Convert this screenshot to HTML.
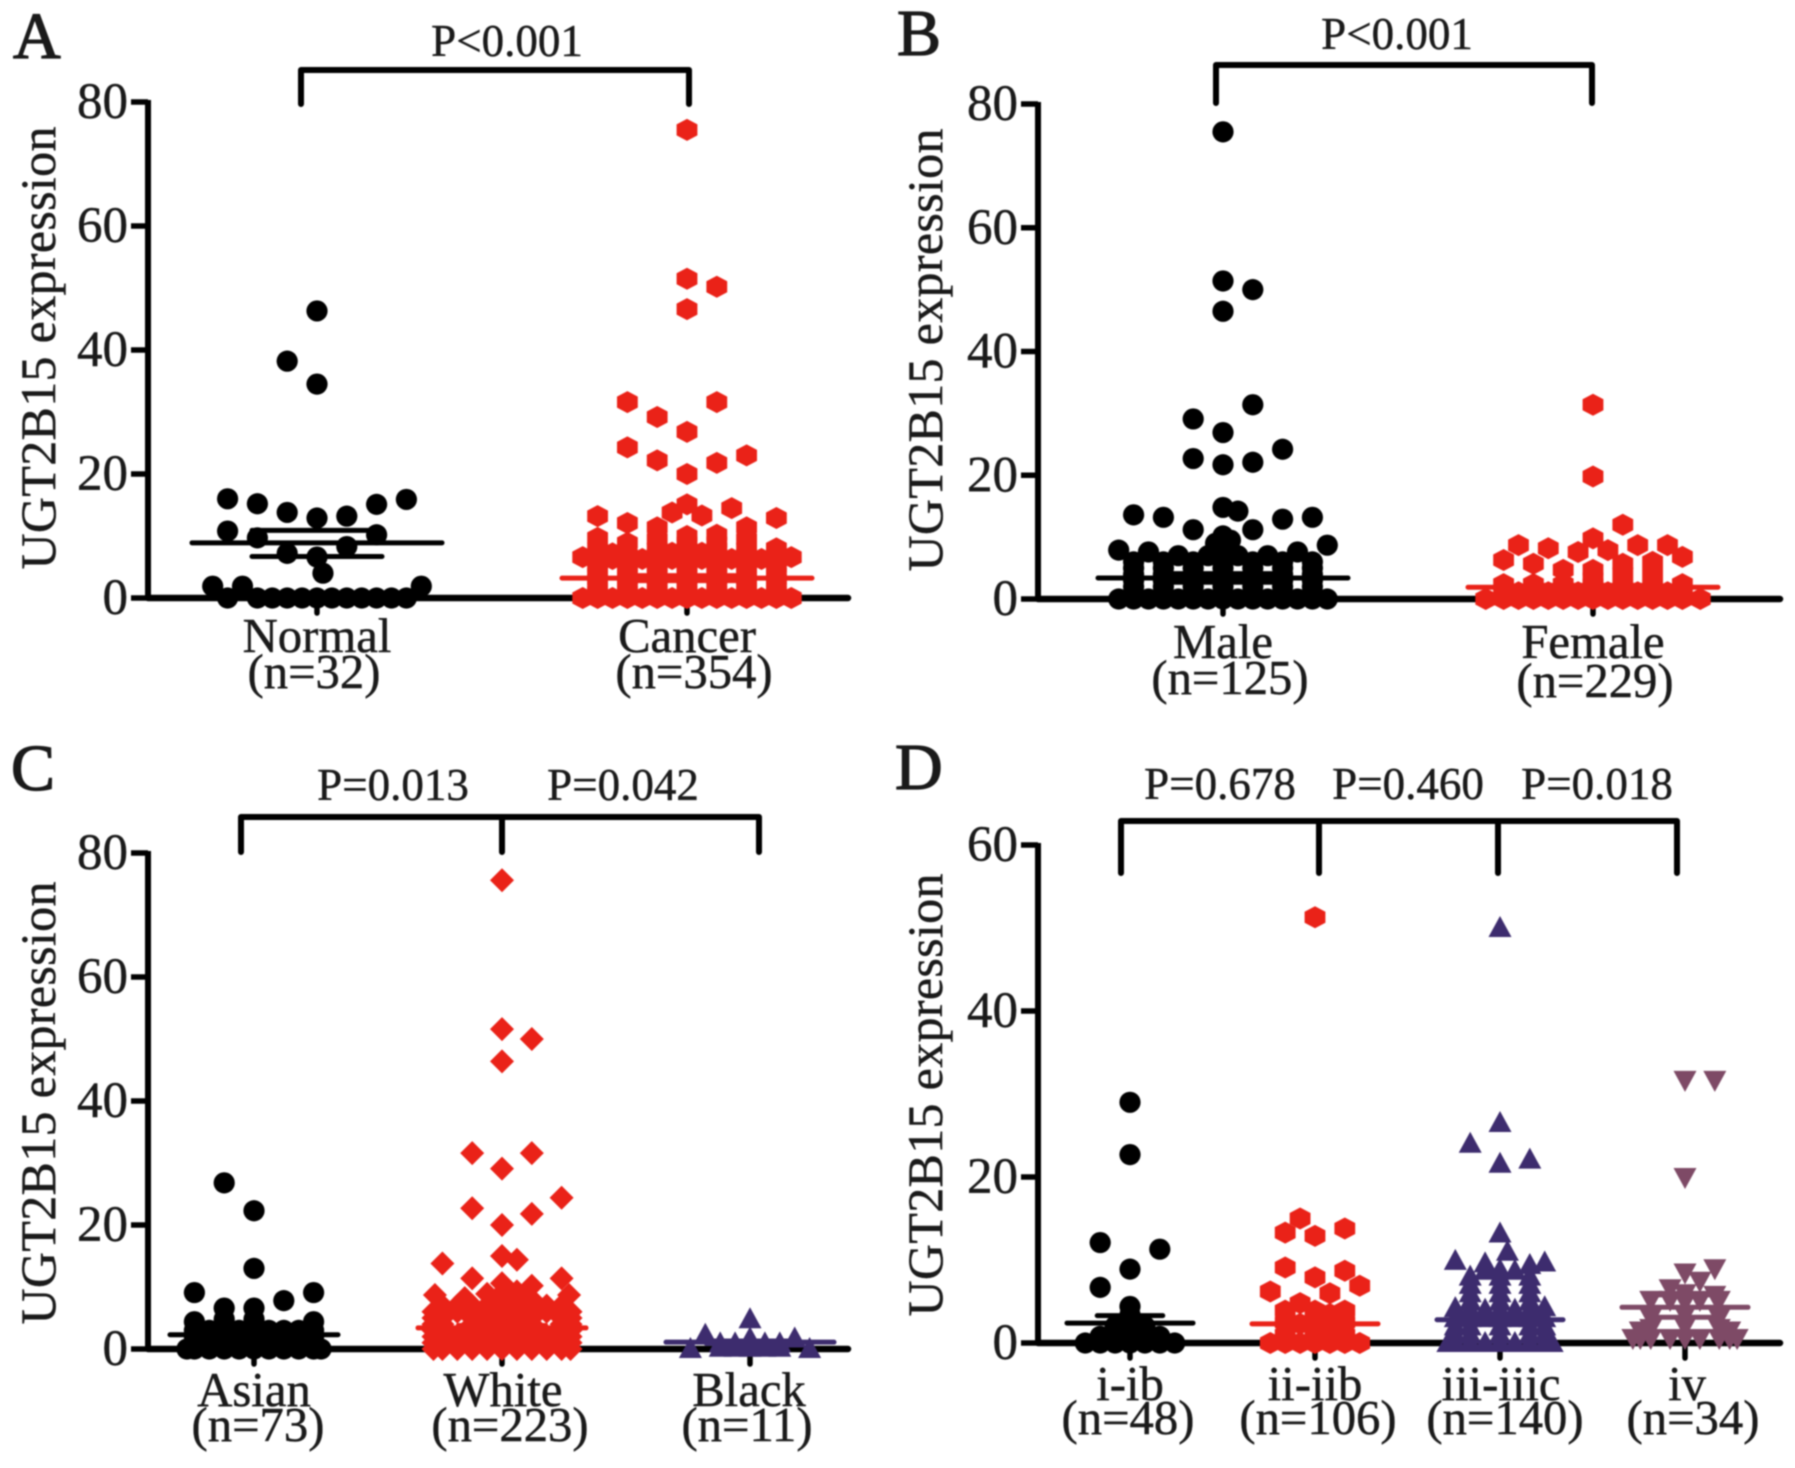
<!DOCTYPE html>
<html lang="en">
<head>
<meta charset="utf-8">
<title>UGT2B15 expression</title>
<style>
html,body{margin:0;padding:0;background:#fff;width:1795px;height:1468px;overflow:hidden}
svg{display:block;filter:blur(.7px)}
text{font-family:"Liberation Serif",serif;fill:#1a1a1a;stroke:#1a1a1a;stroke-width:.45px}
.pl{font-size:66px;stroke-width:1.3px}
.pv{font-size:45px;text-anchor:middle}
.cat{font-size:48.7px;text-anchor:middle}
.yt{font-size:50px;text-anchor:middle}
.tick{font-size:51px;text-anchor:end}
.ln{stroke:#000;stroke-width:6;fill:none;stroke-linecap:round;stroke-linejoin:round}
</style>
</head>
<body>
<svg id="figure" xmlns="http://www.w3.org/2000/svg" width="1795" height="1468" viewBox="0 0 1795 1468">
<rect width="1795" height="1468" fill="#fff"/>
<g>
<text class="pl" x="13" y="58">A</text>
<path class="ln" d="M301,104V70H689V104"/>
<text class="pv" x="507" y="56">P&lt;0.001</text>
<text class="yt" transform="translate(55,348) rotate(-90)" textLength="443">UGT2B15 expression</text>
<text class="cat" x="317" y="652">Normal</text>
<text class="cat" x="314" y="688">(n=32)</text>
<text class="cat" x="687" y="652">Cancer</text>
<text class="cat" x="694" y="688">(n=354)</text>
</g>
<g>
<text class="pl" x="897" y="55">B</text>
<path class="ln" d="M1216,103V65H1592V103"/>
<text class="pv" x="1397" y="49">P&lt;0.001</text>
<text class="yt" transform="translate(942,350) rotate(-90)" textLength="443">UGT2B15 expression</text>
<text class="cat" x="1223" y="658">Male</text>
<text class="cat" x="1230" y="694">(n=125)</text>
<text class="cat" x="1593" y="658">Female</text>
<text class="cat" x="1595" y="697">(n=229)</text>
</g>
<g>
<text class="pl" x="11" y="790">C</text>
<path class="ln" d="M241,852V817H759V852M502,817V852"/>
<text class="pv" x="393" y="800">P=0.013</text>
<text class="pv" x="623" y="800">P=0.042</text>
<text class="yt" transform="translate(55,1103) rotate(-90)" textLength="443">UGT2B15 expression</text>
<text class="cat" x="254" y="1406">Asian</text>
<text class="cat" x="258" y="1441">(n=73)</text>
<text class="cat" x="503" y="1406">White</text>
<text class="cat" x="510" y="1441">(n=223)</text>
<text class="cat" x="749" y="1406">Black</text>
<text class="cat" x="747" y="1441">(n=11)</text>
</g>
<g>
<text class="pl" x="895" y="789">D</text>
<path class="ln" d="M1121,873V821H1677V873M1319,821V873M1498,821V873"/>
<text class="pv" x="1220" y="799">P=0.678</text>
<text class="pv" x="1408" y="799">P=0.460</text>
<text class="pv" x="1597" y="799">P=0.018</text>
<text class="yt" transform="translate(942,1095) rotate(-90)" textLength="443">UGT2B15 expression</text>
<text class="cat" x="1130" y="1400">i-ib</text>
<text class="cat" x="1128" y="1434">(n=48)</text>
<text class="cat" x="1315" y="1400">ii-iib</text>
<text class="cat" x="1318" y="1434">(n=106)</text>
<text class="cat" x="1501" y="1400">iii-iiic</text>
<text class="cat" x="1505" y="1434">(n=140)</text>
<text class="cat" x="1687" y="1400">iv</text>
<text class="cat" x="1693" y="1434">(n=34)</text>
</g>
</svg>
<script>
// Tick labels
const ticks80 = [0, 20, 40, 60, 80];
const ticks60 = [0, 20, 40, 60];

// Swarm columns (integer slot = column index), values listed per column
const aNormalSlots = [-7,-6,-5,-4,-3,-2,-1,0,0.4,1,2,3,4,5,6,7];
const aNormalValues = [[1.9],[0,10.8,16],[1.9],[0,9.7,15.2],[0],[0,7.2,13.8,38.2],[0],[0,6.6,12.9,34.5,46.3],[4],[0],[0,8.3,13.2],[0],[0,10.2,15.1],[0],[0,15.9],[1.9]];
const aNormalStats = [8.9, 10.9, 6.7];

const aCancerSlots = [-7,-6,-5,-4,-3,-2,-1,0,1,2,3,4,5,6,7];
const aCancerValues = [
 [0,6.6],
 [0,1,2,3,4,5,6,7,8,9.7,13.2],
 [0,6.3,7.2],
 [0,1,2,3,4,5,6,7,8.9,12.1,24.3,31.6],
 [0,6.3],
 [0,1,2,3,4,5,6,7,8,9.5,11.4,22.2,29.2],
 [0,6.3,7.3,13.8],
 [0,1,2,3,4,5,6,7,8,9,10,15.1,20,26.8,46.6,51.5,75.5],
 [0,6.3,7.3,13.3],
 [0,1,2,3,4,5,6,7,8,9,10.2,21.8,31.6,50.2],
 [0,6.3,14.5],
 [0,1,2,3,4,5,6,7,8,9.5,11.4,23],
 [0,6.3],
 [0,1,2,3,4,5,6,7,8,12.9],
 [0,6.6]
];
const aCancerStats = [3.2, 3.6, 2.8];

const bMaleSlots = [-7,-6,-5,-4,-3,-2,-1,-0.5,0,0.5,1,2,3,4,5,6,7];
const bMaleValues = [
 [0,7.9],
 [0,1,2,3,4,5,6,13.6],
 [0,7.6],
 [0,1,2,3,4,5,6,13.2],
 [0,7],
 [0,1,2,3,4,5,6,11.2,22.7,29.1],
 [0,7],
 [9],
 [0,1,2,3,4,5,6,7,10.2,14.8,21.7,26.9,46.5,51.4,75.5],
 [9.5],
 [0,7,14.2],
 [0,1,2,3,4,5,6,11.2,22.1,31.4,50],
 [0,7],
 [0,1,2,3,4,5,6,12.9,24.2],
 [0,7.6],
 [0,1,2,3,4,5,6,13.2],
 [0,8.7]
];
const bMaleStats = [3.4, 4.1, 2.7];

const bFemaleSlots = [-7.2,-6,-5,-4,-3,-2,-1,0,1,2,3,4,5,6,7.2];
const bFemaleValues = [
 [0],
 [0,1.1,2.4,6.3],
 [0,1.1,8.7],
 [0,1.1,2.4,5.7],
 [0,1.1,8.2],
 [0,1.1,2.4,4.7],
 [0,1.1,7.6],
 [0,1.1,2.4,3.4,4.7,9.8,19.8,31.4],
 [0,1.1,7.9],
 [0,1.1,2.4,4.2,5.7,12],
 [0,1.1,8.7],
 [0,1.1,2.4,4.2,6],
 [0,1.1,8.7],
 [0,1.1,2.4,6.8],
 [0]
];
const bFemaleStats = [1.9, 2.2, 1.6];

const cAsianSlots = [-4.5,-4,-3,-2,-1,0,1,2,3,4,4.5];
const cAsianValues = [
 [0],
 [0,1,2,3,4.4,9.1],
 [0,1,2,3],
 [0,1,2,3,4.8,6.6,26.8],
 [0,1,2,3],
 [0,1,2,3,4.8,6.6,13,22.3],
 [0,1,2,3],
 [0,1,2,3,7.8],
 [0,1,2,3],
 [0,1,2,3,4.4,9.1],
 [0]
];
const cAsianStats = [2.3, 2.7, 1.9];

const cWhiteSlots = [-4.6,-4.5,-4,-3,-2.5,-2,-1,0,1,2,3,4,4.5,4.6];
const cWhiteValues = [
 [0,1,2,3,4,5,6],
 [8.7],
 [0,1,2,3,4,5,6,7,13.8],
 [0,1,2,6,7],
 [8.2],
 [0,1,2,3,4,5,6,7,11.4,22.7,31.6],
 [0,1,2,3,4,5,6,7,8.9],
 [0,1,2,3,4,5,6,7,8,9,10.6,15,20,29.1,46.4,51.6,75.6],
 [0,1,2,3,4,5,6,7,9.3,14.4],
 [0,1,2,3,4,5,6,7,8,10.2,21.8,31.6,50],
 [0,1,2,6,7],
 [0,1,2,3,4,5,6,7,11.4,24.4],
 [8.7],
 [0,1,2,3,4,5,6]
];
const cWhiteStats = [3.4, 3.8, 3];

const cBlackSlots = [-4,-3,-2,-1,0,1,2,3,4];
const cBlackValues = [[0],[2.3],[0.2,0.9],[0.2,0.9],[0.2,1,1.7,4.8],[0.2,0.9],[0.2,0.9],[1.7],[0]];
const cBlackStats = [1.1, 1.3, 0.9];

const dStage1Slots = [-3,-2,-1,0,1,2,3];
const dStage1Values = [
 [0],
 [0,0.8,6.7,12.1],
 [0,0.8,2],
 [0,1,2,3.4,4.4,8.9,22.7,29],
 [0,0.8,2],
 [0,0.8,11.3],
 [0]
];
const dStage1Stats = [2.4, 3.3, 1.5];

const dStage2Slots = [-3,-2,-1,0,1,2,3];
const dStage2Values = [
 [0,6.2],
 [0,1,2.5,3.9,9.1,13.3],
 [0,2.3,4.8,15],
 [0,1,2.3,3.9,7.9,12.9,51.3],
 [0,1,2.5,3.5,6],
 [0,1,2.5,3.9,8.7,13.8],
 [0,6.9]
];
const dStage2Stats = [2.3, 2.8, 1.8];

const dStage3Slots = [-3.5,-3,-2,-1,0,0.5,1,2,3,3.5];
const dStage3Values = [
 [0],
 [0,1,2,3,4.2,9.9],
 [0,1,2,3,4,5,6,7,8,24],
 [0,3,4,8.7,9.6],
 [0,1,2,3,4,5,6,7,8,8.8,13.2,21.6,26.5,50],
 [11],
 [0,3,4,8.7],
 [0,1,2,3,4,5,6,7,8,9.4,22.1],
 [0,1,2,3,4.3,9.7],
 [0]
];
const dStage3Stats = [2.8, 3.2, 2.4];

const dStage4Slots = [-3.5,-3,-2.3,-1,0,1,2,2.3,3,3.5];
const dStage4Values = [
 [0.6],
 [0.6,1.5],
 [0.6,1.8,3.1,5.2],
 [0.6,5.2,6.6],
 [0.6,2,3.4,5,6,8.5,20,31.7],
 [0.6,5.2,7.5],
 [5.8,9,31.7],
 [0.6,1.8,3.1,5.2],
 [0.6,1.5],
 [0.6]
];
const dStage4Stats = [4.3, 5.8, 3.1];

const RED = '#ea2218', BLACK = '#000', PURPLE = '#3d2c6e', MAUVE = '#7e4a66';

const svg = document.getElementById('figure');
const NS = 'http://www.w3.org/2000/svg';

function make(tag, attrs, parent) {
  const el = document.createElementNS(NS, tag);
  for (const k in attrs) el.setAttribute(k, attrs[k]);
  parent.appendChild(el);
  return el;
}

function drawMarker(shape, x, y, color, parent) {
  let el;
  if (shape === 'circle') {
    el = make('circle', {cx: x, cy: y, r: 10.6, fill: color}, parent);
  } else {
    let pts;
    if (shape === 'hex') pts = [[0,-11],[10.4,-5.5],[10.4,5.5],[0,11],[-10.4,5.5],[-10.4,-5.5]];
    if (shape === 'diamond') pts = [[0,-12],[12,0],[0,12],[-12,0]];
    if (shape === 'up') pts = [[0,-12],[11.5,9],[-11.5,9]];
    if (shape === 'down') pts = [[-11.5,-9],[11.5,-9],[0,12]];
    el = make('polygon', {points: pts.map(p => (x + p[0]) + ',' + (y + p[1])).join(' '), fill: color}, parent);
  }
  
  
}

function drawPanel(p) {
  const g = make('g', {}, svg);
  
  
  const yScale = v => p.y0 - (v / p.ticks[p.ticks.length - 1]) * (p.y0 - p.yTop);
  const xScale = i => p.xFirst + i * p.xStep;

  // axes
  const yAxis = make('line', {x1: p.axisX, x2: p.axisX, y1: yScale(p.ticks[p.ticks.length - 1]) - 2, y2: p.y0, stroke: '#000', 'stroke-width': 6}, g);
  
  
  const xAxis = make('line', {x1: p.axisX, x2: p.axisEnd, y1: p.y0, y2: p.y0, stroke: '#000', 'stroke-width': 6.5, 'stroke-linecap': 'round'}, g);
  
  

  p.ticks.forEach(t => {
    const y = yScale(t);
    const tm = make('line', {x1: p.axisX - 17, x2: p.axisX, y1: y, y2: y, stroke: '#000', 'stroke-width': 5.5}, g);
    
    
    const lb = make('text', {class: 'tick', x: p.axisX - 20, y: y + 16}, g);
    lb.textContent = t;
    
    
  });

  p.series.forEach((s, i) => {
    const cx = xScale(i);
    const tm = make('line', {x1: cx, x2: cx, y1: p.y0, y2: p.y0 + 15, stroke: '#000', 'stroke-width': 5.5, 'stroke-linecap': 'round'}, g);
    
    

    const sg = make('g', {}, g);
    
    
    s.slots.forEach((slot, k) => {
      s.values[k].forEach(v => {
        drawMarker(s.shape, cx + slot * p.slotW, yScale(v), s.color, sg);
      });
    });

    s.stats.forEach((v, k) => {
      const half = k === 0 ? p.meanHalf : p.meanHalf * 0.52;
      const ln = make('line', {x1: cx - half, x2: cx + half, y1: yScale(v), y2: yScale(v), stroke: s.color, 'stroke-width': 5, 'stroke-linecap': 'round'}, sg);
      
      
    });
  });
}

drawPanel({name: 'panel-a', axisX: 148, axisEnd: 848, y0: 598, yTop: 102, ticks: ticks80, xFirst: 317, xStep: 370, slotW: 14.9, meanHalf: 125, series: [
  {name: 'normal', slots: aNormalSlots, values: aNormalValues, stats: aNormalStats, shape: 'circle', color: BLACK},
  {name: 'cancer', slots: aCancerSlots, values: aCancerValues, stats: aCancerStats, shape: 'hex', color: RED}
]});
drawPanel({name: 'panel-b', axisX: 1038, axisEnd: 1780, y0: 599, yTop: 104, ticks: ticks80, xFirst: 1223, xStep: 370, slotW: 14.9, meanHalf: 125, series: [
  {name: 'male', slots: bMaleSlots, values: bMaleValues, stats: bMaleStats, shape: 'circle', color: BLACK},
  {name: 'female', slots: bFemaleSlots, values: bFemaleValues, stats: bFemaleStats, shape: 'hex', color: RED}
]});
drawPanel({name: 'panel-c', axisX: 148, axisEnd: 848, y0: 1349, yTop: 853, ticks: ticks80, xFirst: 254, xStep: 248, slotW: 14.9, meanHalf: 84, series: [
  {name: 'asian', slots: cAsianSlots, values: cAsianValues, stats: cAsianStats, shape: 'circle', color: BLACK},
  {name: 'white', slots: cWhiteSlots, values: cWhiteValues, stats: cWhiteStats, shape: 'diamond', color: RED},
  {name: 'black', slots: cBlackSlots, values: cBlackValues, stats: cBlackStats, shape: 'up', color: PURPLE}
]});
drawPanel({name: 'panel-d', axisX: 1038, axisEnd: 1780, y0: 1343, yTop: 845, ticks: ticks60, xFirst: 1130, xStep: 185, slotW: 14.9, meanHalf: 63, series: [
  {name: 'stage-i-ib', slots: dStage1Slots, values: dStage1Values, stats: dStage1Stats, shape: 'circle', color: BLACK},
  {name: 'stage-ii-iib', slots: dStage2Slots, values: dStage2Values, stats: dStage2Stats, shape: 'hex', color: RED},
  {name: 'stage-iii-iiic', slots: dStage3Slots, values: dStage3Values, stats: dStage3Stats, shape: 'up', color: PURPLE},
  {name: 'stage-iv', slots: dStage4Slots, values: dStage4Values, stats: dStage4Stats, shape: 'down', color: MAUVE}
]});
</script>
</body>
</html>
